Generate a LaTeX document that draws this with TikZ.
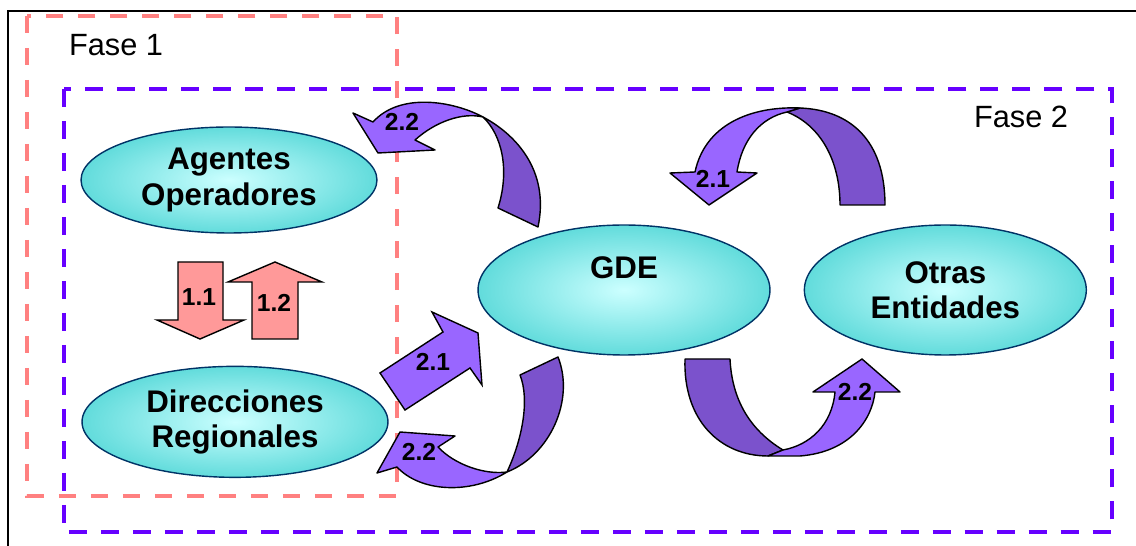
\documentclass[tikz,border=0pt]{standalone}
\usepackage{fontspec}
\setmainfont{Liberation Sans}
\usepackage{xcolor}
\usepackage{tikz}
\usetikzlibrary{positioning}
\usetikzlibrary{shapes.geometric}
\definecolor{cyanlt}{HTML}{CCFFFF}
\definecolor{cyandk}{HTML}{33CCCC}
\definecolor{navy}{HTML}{003366}
\definecolor{pinkfill}{HTML}{FF9999}
\definecolor{fasered}{HTML}{FF8080}
\definecolor{faseviolet}{HTML}{6600FF}
\definecolor{arrlight}{HTML}{9966FF}
\definecolor{arrdark}{HTML}{7B52CC}
\pgfdeclareradialshading{entshade}{\pgfpoint{0bp}{0bp}}{color(0bp)=(cyanlt); color(36bp)=(cyandk); color(50bp)=(cyandk)}
\tikzset{ent/.style={draw=navy, ellipse, line width=0.8pt, shading=entshade, align=center, inner sep=0pt, font=\fontsize{17.8}{20}\selectfont\bfseries},
	entlbl/.style={font=\fontsize{17.8}{20}\selectfont\bfseries, inner sep=0pt},
	faselbl/.style={font=\fontsize{17.5}{20}\selectfont, inner sep=0pt},
	num/.style={font=\fontsize{14}{16}\selectfont\bfseries, inner sep=0pt},
	fase1/.style={draw=fasered, line width=2.3pt, dash pattern=on 0.34cm off 0.3cm},
	fase2/.style={draw=faseviolet, line width=2.3pt, dash pattern=on 0.36cm off 0.28cm},
	pinkarr/.style={fill=pinkfill, draw=black, line width=0.8pt, line join=miter},
	lightarr/.style={fill=arrlight, draw=black, line width=0.8pt, line join=round},
	darkarr/.style={fill=arrdark, draw=black, line width=0.8pt, line join=round}}

\begin{document}
\begin{tikzpicture}[x=0.02cm, y=-0.02cm]
	\useasboundingbox (0,0) rectangle (1136,546);
	\draw[line width=1.2pt] (8,546) -- (8,11) -- (1136,11);
	
	% fases
	\draw[fase1] (27,16) rectangle (397,496);
	\draw[fase2] (64,89) rectangle (1112,532);
	\node[faselbl] (f1) at (116,45) {Fase 1};
	\node[faselbl] (f2) at (1021,117) {Fase 2};
	
	% entidades
	\node[ent, minimum width=5.92cm, minimum height=2.12cm] (ago) at (229,180) {Agentes\\Operadores};
	\node[ent, minimum width=6.12cm, minimum height=2.22cm, xshift=0.12cm] (dir) [below=2.64cm of ago] {Direcciones\\Regionales};
	\node[ent, minimum width=5.84cm, minimum height=2.6cm] (gde) at (624,290) {};
	\node[entlbl] (gdet) at ([yshift=0.44cm]gde.center) {GDE};
	\node[ent, minimum width=5.64cm, minimum height=2.6cm] (otr) [right=0.66cm of gde] {Otras\\Entidades};
	
	% fase 1 flechas
	\draw[pinkarr] (178,262) -- (223,262) -- (223,320) -- (244,320) -- (200,339) -- (157,320) -- (178,320) -- cycle;
	\draw[pinkarr] (252,339) -- (298,339) -- (298,282) -- (322,282) -- (275,262) -- (228,282) -- (252,282) -- cycle;
	\node[num] (n11) at (199,297) {1.1};
	\node[num] (n12) at (274,303) {1.2};
	
	% GDE -> Agentes
	\draw[darkarr] (483,117) .. controls (515,134) and (550,170) .. (538,227) -- (498,208)
		.. controls (510,170) and (502,135) .. (483,117) -- cycle;
	\draw[lightarr] (483,117) .. controls (453,101) and (400,92) .. (373,122) -- (353,113) -- (378,153) -- (435,150) -- (415,140)
		.. controls (435,122) and (462,112) .. (483,117) -- cycle;
	\node[num] (n22a) at (402,122) {2.2};
	
	% Otras -> GDE
	\draw[darkarr] (787,112) .. controls (820,125) and (840,160) .. (840,205) -- (885,205)
		.. controls (885,140) and (850,110) .. (800,108) -- cycle;
	\draw[lightarr] (800,108) .. controls (750,106) and (705,125) .. (695,172) -- (670,173) -- (709,205) -- (757,173) -- (737,172)
		.. controls (742,140) and (760,118) .. (787,112) -- cycle;
	\node[num] (n21b) at (713,179) {2.1};
	
	% Direcciones -> GDE
	\draw[lightarr, line join=miter] (380,373) -- (443,332) -- (432,312) -- (478,333) -- (482,385) -- (470,368) -- (405,410) -- cycle;
	\node[num] (n21a) at (433,362) {2.1};
	
	% GDE -> Direcciones
	\draw[darkarr] (558,357) .. controls (575,400) and (550,455) .. (507,472)
		.. controls (522,440) and (530,400) .. (520,375) -- cycle;
	\draw[lightarr] (507,472) .. controls (470,495) and (420,492) .. (397,467) -- (377,473) -- (400,432) -- (455,436) -- (438,447)
		.. controls (455,465) and (485,475) .. (507,472) -- cycle;
	\node[num] (n22b) at (419,452) {2.2};
	
	% GDE -> Otras
	\draw[darkarr] (685,359) .. controls (683,420) and (720,456) .. (768,456) -- (783,450)
		.. controls (750,430) and (732,400) .. (730,359) -- cycle;
	\draw[lightarr] (768,456) -- (800,456) .. controls (850,452) and (872,420) .. (875,392) -- (900,392) -- (862,359) -- (813,392) -- (835,392)
		.. controls (832,425) and (810,445) .. (783,450) -- cycle;
	\node[num] (n22c) at (855,392) {2.2};
\end{tikzpicture}
\end{document}
